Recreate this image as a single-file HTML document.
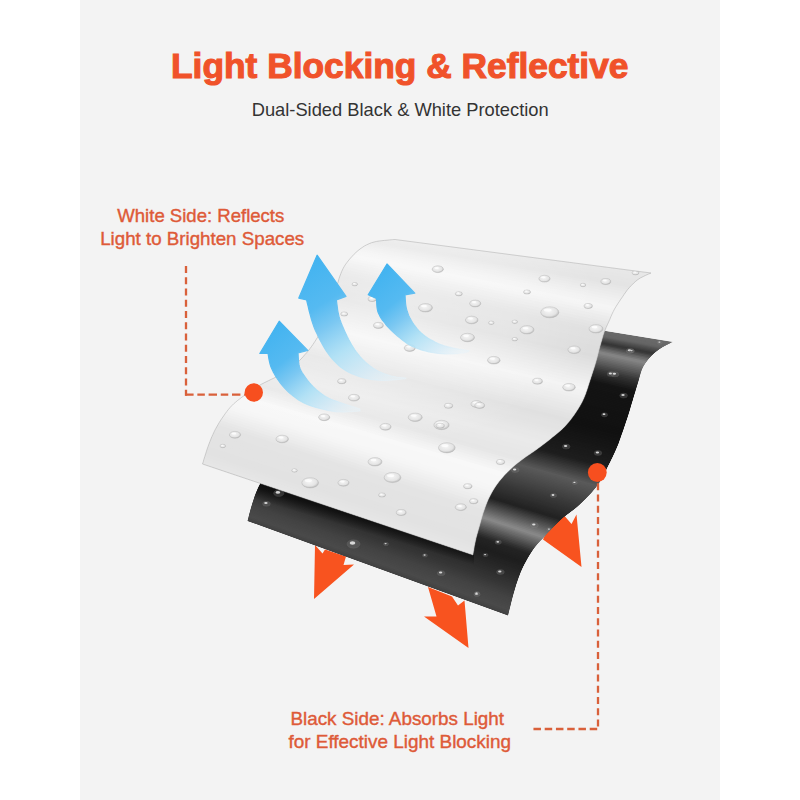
<!DOCTYPE html>
<html><head><meta charset="utf-8">
<style>
html,body{margin:0;padding:0;background:#ffffff;}
body{width:800px;height:800px;overflow:hidden;position:relative;font-family:"Liberation Sans",sans-serif;}
svg{position:absolute;left:0;top:0;}
</style></head><body>
<svg width="800" height="800" viewBox="0 0 800 800">
<rect x="0" y="0" width="800" height="800" fill="#ffffff"/>
<rect x="80" y="0" width="640" height="800" fill="#f3f3f3"/>
<defs>
<linearGradient id="ag1" gradientUnits="userSpaceOnUse" x1="279" y1="321" x2="350" y2="412">
<stop offset="0" stop-color="#42b3f0"/>
<stop offset="0.3" stop-color="#55baf1"/>
<stop offset="0.45" stop-color="#7cc8f2"/>
<stop offset="0.65" stop-color="#ace0f6" stop-opacity="0.9"/>
<stop offset="0.85" stop-color="#d0eaf8" stop-opacity="0.75"/>
<stop offset="1" stop-color="#e6f3fa" stop-opacity="0.45"/>
</linearGradient>
<linearGradient id="ag2" gradientUnits="userSpaceOnUse" x1="317" y1="255" x2="395" y2="380">
<stop offset="0" stop-color="#42b3f0"/>
<stop offset="0.3" stop-color="#55baf1"/>
<stop offset="0.45" stop-color="#7cc8f2"/>
<stop offset="0.65" stop-color="#ace0f6" stop-opacity="0.9"/>
<stop offset="0.85" stop-color="#d0eaf8" stop-opacity="0.75"/>
<stop offset="1" stop-color="#e6f3fa" stop-opacity="0.45"/>
</linearGradient>
<linearGradient id="ag3" gradientUnits="userSpaceOnUse" x1="387" y1="264" x2="460" y2="354">
<stop offset="0" stop-color="#42b3f0"/>
<stop offset="0.3" stop-color="#55baf1"/>
<stop offset="0.45" stop-color="#7cc8f2"/>
<stop offset="0.65" stop-color="#ace0f6" stop-opacity="0.9"/>
<stop offset="0.85" stop-color="#d0eaf8" stop-opacity="0.75"/>
<stop offset="1" stop-color="#e6f3fa" stop-opacity="0.45"/>
</linearGradient>
<linearGradient id="shd" gradientUnits="userSpaceOnUse" x1="330" y1="500" x2="324" y2="520">
<stop offset="0" stop-color="#080808" stop-opacity="0.95"/>
<stop offset="0.45" stop-color="#080808" stop-opacity="0.7"/>
<stop offset="1" stop-color="#080808" stop-opacity="0"/>
</linearGradient>
<radialGradient id="wd" cx="0.45" cy="0.4" r="0.6">
<stop offset="0" stop-color="#f6f6f6"/>
<stop offset="0.7" stop-color="#e4e4e4"/>
<stop offset="1" stop-color="#b8b8b8"/>
</radialGradient>
<linearGradient id="wov" gradientUnits="userSpaceOnUse" x1="300" y1="300" x2="620" y2="380">
<stop offset="0" stop-color="#ffffff" stop-opacity="0.45"/>
<stop offset="0.5" stop-color="#ffffff" stop-opacity="0.3"/>
<stop offset="1" stop-color="#ffffff" stop-opacity="0"/>
</linearGradient>
<radialGradient id="wov2" gradientUnits="userSpaceOnUse" cx="380" cy="310" r="170" gradientTransform="translate(380 310) scale(1.3 0.8) translate(-380 -310)">
<stop offset="0" stop-color="#ffffff" stop-opacity="0.45"/>
<stop offset="0.6" stop-color="#ffffff" stop-opacity="0.25"/>
<stop offset="1" stop-color="#ffffff" stop-opacity="0"/>
</radialGradient>
<clipPath id="bclip"><path d="M425.0,301.5 L673.2,341.9 671.7,342.6 670.2,343.3 668.7,344.0 667.2,344.7 665.7,345.5 664.3,346.2 662.8,347.0 661.4,347.9 660.0,348.8 658.6,349.7 657.3,350.7 656.0,351.7 654.7,352.8 653.5,353.8 652.2,355.0 651.1,356.1 650.0,357.4 648.9,358.6 647.8,359.9 646.8,361.2 645.9,362.6 644.9,363.9 644.1,365.3 643.2,366.8 642.5,368.3 641.8,369.8 641.3,371.3 640.7,372.9 640.3,374.5 639.8,376.1 639.4,377.7 639.0,379.3 638.5,380.9 638.0,382.5 637.6,384.0 637.1,385.6 636.6,387.2 636.1,388.8 635.6,390.4 635.2,392.0 634.7,393.6 634.2,395.1 633.7,396.7 633.2,398.3 632.8,399.9 632.3,401.5 631.8,403.1 631.3,404.7 630.9,406.2 630.4,407.8 630.0,409.4 629.5,411.0 629.0,412.6 628.5,414.2 628.0,415.8 627.5,417.3 627.0,418.9 626.4,420.5 625.9,422.0 625.4,423.6 624.9,425.2 624.3,426.7 623.8,428.3 623.3,429.9 622.7,431.4 622.2,433.0 621.6,434.6 621.1,436.1 620.5,437.7 620.0,439.3 619.4,440.8 618.9,442.4 618.3,443.9 617.7,445.5 617.0,447.0 616.4,448.5 615.7,450.0 615.1,451.6 614.4,453.1 613.7,454.6 613.0,456.1 612.3,457.6 611.5,459.0 610.8,460.5 610.1,462.0 609.3,463.5 608.5,465.0 607.8,466.4 607.0,467.9 606.3,469.4 605.6,470.9 604.9,472.4 604.2,473.9 603.5,475.4 602.8,476.9 602.0,478.3 601.1,479.8 600.3,481.2 599.4,482.5 598.4,483.9 597.5,485.3 596.5,486.6 595.5,487.9 594.4,489.2 593.3,490.5 592.3,491.7 591.2,492.9 590.0,494.2 588.9,495.4 587.8,496.6 586.6,497.8 585.5,498.9 584.3,500.1 583.1,501.3 581.9,502.4 580.7,503.6 579.5,504.7 578.3,505.8 577.0,506.9 575.8,508.0 574.5,509.0 573.2,510.0 571.9,511.0 570.5,512.0 569.2,513.0 567.9,514.0 566.5,515.0 565.2,516.0 563.9,517.0 562.7,518.1 561.4,519.2 560.2,520.3 559.0,521.4 557.8,522.6 556.6,523.7 555.4,524.9 554.3,526.1 553.1,527.3 552.0,528.5 550.9,529.7 549.7,530.9 548.6,532.1 547.5,533.3 546.4,534.5 545.2,535.8 544.1,537.0 543.0,538.2 541.8,539.4 540.7,540.6 539.6,541.8 538.4,543.0 537.3,544.2 536.3,545.5 535.2,546.8 534.2,548.1 533.2,549.4 532.3,550.8 531.4,552.2 530.5,553.6 529.6,555.0 528.7,556.4 527.9,557.8 527.1,559.3 526.3,560.7 525.5,562.2 524.7,563.6 524.0,565.1 523.2,566.6 522.5,568.1 521.8,569.6 521.2,571.1 520.5,572.6 519.9,574.2 519.3,575.7 518.7,577.3 518.2,578.8 517.6,580.4 517.1,581.9 516.6,583.5 516.0,585.1 515.6,586.7 515.1,588.3 514.6,589.9 514.2,591.4 513.7,593.0 513.3,594.6 512.9,596.2 512.4,597.8 512.0,599.4 511.6,601.0 511.2,602.6 510.8,604.2 510.4,605.9 510.0,607.5 509.6,609.1 509.2,610.7 508.8,612.3 508.4,613.9 508.0,615.5 L247.5,521.0 247.9,519.5 248.3,518.0 248.6,516.5 249.0,515.1 249.4,513.6 249.8,512.1 250.2,510.6 250.6,509.1 251.0,507.7 251.4,506.2 251.9,504.7 252.3,503.3 252.8,501.8 253.3,500.4 253.7,498.9 254.2,497.5 254.7,496.0 255.3,494.6 255.8,493.2 256.4,491.8 257.0,490.4 257.6,489.0 258.3,487.6 258.9,486.2 259.6,484.9 260.3,483.5 261.0,482.2 261.8,480.9 262.5,479.5 263.3,478.2 264.1,476.9 264.9,475.6 265.7,474.4 266.5,473.1 267.3,471.8 268.2,470.6 269.1,469.4 270.0,468.2 270.9,467.0 271.9,465.8 272.9,464.6 273.9,463.5 274.9,462.5 276.0,461.4 277.1,460.4 278.2,459.4 279.4,458.4 280.6,457.5 281.7,456.6 282.9,455.7 284.1,454.8 285.3,453.8 286.5,452.9 287.7,452.1 288.9,451.2 290.2,450.3 291.4,449.4 292.6,448.5 293.8,447.7 295.1,446.9 296.3,446.0 297.6,445.2 298.9,444.4 300.1,443.6 301.4,442.9 302.8,442.2 304.1,441.5 305.4,440.8 306.8,440.1 308.1,439.5 309.5,438.8 310.8,438.2 312.2,437.5 313.5,436.8 314.8,436.1 316.1,435.4 317.5,434.7 318.8,434.0 320.1,433.3 321.4,432.6 322.8,431.9 324.1,431.2 325.4,430.5 326.7,429.7 328.0,428.9 329.2,428.1 330.4,427.3 331.6,426.3 332.8,425.3 333.8,424.3 334.8,423.2 335.8,422.0 336.7,420.8 337.7,419.7 338.7,418.5 339.7,417.4 340.7,416.2 341.6,415.1 342.6,413.9 343.6,412.8 344.5,411.6 345.5,410.4 346.4,409.2 347.3,408.0 348.2,406.8 349.0,405.5 349.8,404.3 350.6,403.0 351.4,401.7 352.2,400.4 353.0,399.1 353.7,397.7 354.4,396.4 355.1,395.0 355.8,393.7 356.4,392.3 357.1,390.9 357.7,389.5 358.3,388.1 358.9,386.7 359.5,385.3 360.0,383.9 360.5,382.5 361.1,381.0 361.6,379.6 362.1,378.1 362.5,376.7 363.0,375.2 363.5,373.8 363.9,372.3 364.3,370.9 364.8,369.4 365.2,367.9 365.6,366.4 366.0,365.0 366.4,363.5 366.8,362.0 367.2,360.5 367.6,359.0 368.0,357.6 368.4,356.1 368.8,354.6 369.2,353.1 369.5,351.6 369.9,350.1 370.3,348.7 370.6,347.2 371.0,345.7 371.4,344.2 371.7,342.7 372.1,341.2 372.5,339.7 372.9,338.3 373.3,336.8 373.8,335.3 374.3,333.9 374.8,332.5 375.4,331.0 376.0,329.7 376.7,328.3 377.4,327.0 378.2,325.7 379.1,324.4 380.0,323.2 380.9,322.0 381.8,320.8 382.7,319.6 383.7,318.4 384.7,317.3 385.7,316.2 386.7,315.1 387.7,314.0 388.8,312.9 389.9,311.9 391.1,311.0 392.3,310.0 393.5,309.1 394.7,308.3 396.0,307.5 397.3,306.7 398.6,306.0 400.0,305.4 401.3,304.8 402.8,304.3 404.2,303.9 405.6,303.5 407.1,303.2 408.6,303.0 410.1,302.7 411.5,302.6 413.0,302.4 414.5,302.3 416.0,302.1 417.5,302.0 419.0,301.9 420.5,301.8 422.0,301.7 423.5,301.6 425.0,301.5 Z"/></clipPath>
<clipPath id="wclip"><path d="M395.0,239.5 L651.0,273.0 648.3,274.2 645.7,275.3 643.1,276.6 640.5,277.9 638.0,279.5 635.7,281.3 633.6,283.2 631.5,285.3 629.5,287.4 627.6,289.6 625.9,291.9 624.2,294.3 622.6,296.7 620.9,299.1 619.3,301.5 617.7,303.9 616.1,306.4 614.6,308.9 613.3,311.4 612.0,314.1 610.9,316.7 609.8,319.4 608.6,322.1 607.4,324.8 606.2,327.4 605.1,330.1 604.1,332.8 603.2,335.6 602.4,338.4 601.6,341.2 600.8,343.9 600.0,346.8 599.3,349.6 598.6,352.4 597.9,355.2 597.2,358.0 596.4,360.8 595.6,363.6 594.7,366.4 593.8,369.2 592.9,371.9 592.0,374.7 591.1,377.4 590.2,380.2 589.3,383.0 588.4,385.8 587.6,388.5 586.6,391.3 585.7,394.0 584.6,396.7 583.4,399.4 582.2,402.0 580.8,404.6 579.4,407.1 577.8,409.6 576.2,412.0 574.6,414.4 572.9,416.8 571.2,419.1 569.4,421.4 567.5,423.6 565.6,425.8 563.6,427.9 561.4,429.9 559.3,431.8 557.0,433.7 554.8,435.5 552.5,437.3 550.3,439.2 548.0,441.0 545.7,442.8 543.4,444.5 541.1,446.3 538.7,448.0 536.4,449.7 534.0,451.4 531.6,453.1 529.2,454.7 526.8,456.3 524.4,458.0 522.1,459.7 519.8,461.5 517.5,463.3 515.2,465.1 513.0,467.0 510.9,469.0 508.8,471.0 506.7,473.0 504.7,475.1 502.8,477.3 500.9,479.5 499.0,481.7 497.3,484.1 495.6,486.4 494.0,488.9 492.5,491.4 491.1,493.9 489.8,496.5 488.5,499.1 487.4,501.8 486.3,504.5 485.3,507.2 484.4,510.0 483.4,512.7 482.6,515.5 481.8,518.3 481.0,521.1 480.2,523.9 479.4,526.7 478.6,529.5 477.8,532.3 477.0,535.1 476.2,537.9 475.6,540.7 475.0,543.5 474.4,546.4 474.0,549.3 473.5,552.1 473.0,555.0 L202.5,464.0 203.3,461.5 204.0,458.9 204.8,456.4 205.6,453.9 206.4,451.4 207.2,448.9 208.1,446.4 209.0,443.9 209.9,441.5 210.9,439.0 211.9,436.6 213.0,434.2 214.1,431.8 215.3,429.4 216.6,427.1 217.9,424.8 219.2,422.6 220.6,420.3 222.1,418.1 223.6,416.0 225.1,413.8 226.7,411.7 228.3,409.6 230.0,407.6 231.8,405.7 233.7,403.8 235.7,402.1 237.7,400.4 239.8,398.8 241.9,397.2 244.0,395.7 246.2,394.1 248.3,392.6 250.5,391.1 252.7,389.6 254.9,388.2 257.1,386.8 259.4,385.4 261.6,384.1 264.0,382.9 266.4,381.7 268.7,380.6 271.1,379.4 273.5,378.3 275.8,377.1 278.2,375.9 280.5,374.6 282.9,373.4 285.2,372.2 287.5,370.9 289.7,369.6 291.9,368.1 294.0,366.5 295.9,364.7 297.7,362.7 299.4,360.7 301.2,358.8 303.0,356.8 304.7,354.8 306.5,352.9 308.2,350.9 309.8,348.8 311.4,346.7 312.9,344.5 314.4,342.3 315.8,340.1 317.2,337.9 318.5,335.6 319.7,333.3 321.0,330.9 322.1,328.5 323.2,326.1 324.3,323.7 325.3,321.3 326.2,318.8 327.2,316.4 328.1,313.9 328.9,311.4 329.8,308.9 330.6,306.4 331.4,303.9 332.2,301.4 333.0,298.9 333.8,296.3 334.6,293.8 335.3,291.3 336.1,288.8 336.8,286.2 337.5,283.7 338.3,281.2 339.0,278.6 339.9,276.1 340.8,273.7 341.8,271.2 342.9,268.9 344.2,266.5 345.6,264.3 347.2,262.2 348.8,260.1 350.5,258.1 352.3,256.2 354.1,254.2 356.0,252.4 358.0,250.6 360.0,249.0 362.2,247.5 364.4,246.0 366.7,244.8 369.1,243.7 371.5,242.7 374.1,242.0 376.6,241.4 379.3,241.0 381.9,240.7 384.5,240.4 387.1,240.2 389.7,239.9 392.4,239.7 395.0,239.5 Z"/></clipPath>
</defs>
<path d="M428,587 L452,596.5 L458,605.5 L464.5,600.5 L468.5,648 L424,616.5 L436.5,616.5 Z" fill="#f8531f"/>
<path d="M315,545 L322.5,553.5 L325,549.5 L346,556.5 L343.5,565 L354,564.5 L314,599 Z" fill="#f8531f"/>
<path d="M543,539.5 L548,528 L562,513 L571.5,524 L576.5,514.5 L581.5,567 Z" fill="#f8531f"/>
<g clip-path="url(#bclip)">
<polygon points="425.0,301.5 673.2,341.9 668.7,344.0 420.5,301.8" fill="#6a6a6a"/>
<polygon points="423.5,301.6 671.7,342.6 667.2,344.7 419.0,301.9" fill="#696969"/>
<polygon points="422.0,301.7 670.2,343.3 665.7,345.5 417.5,302.0" fill="#696969"/>
<polygon points="420.5,301.8 668.7,344.0 664.3,346.2 416.0,302.1" fill="#686868"/>
<polygon points="419.0,301.9 667.2,344.7 662.8,347.0 414.5,302.3" fill="#676767"/>
<polygon points="417.5,302.0 665.7,345.5 661.4,347.9 413.0,302.4" fill="#676767"/>
<polygon points="416.0,302.1 664.3,346.2 660.0,348.8 411.5,302.6" fill="#666666"/>
<polygon points="414.5,302.3 662.8,347.0 658.6,349.7 410.1,302.7" fill="#626262"/>
<polygon points="413.0,302.4 661.4,347.9 657.3,350.7 408.6,303.0" fill="#5b5b5b"/>
<polygon points="411.5,302.6 660.0,348.8 656.0,351.7 407.1,303.2" fill="#535353"/>
<polygon points="410.1,302.7 658.6,349.7 654.7,352.8 405.6,303.5" fill="#4c4c4c"/>
<polygon points="408.6,303.0 657.3,350.7 653.5,353.8 404.2,303.9" fill="#454545"/>
<polygon points="407.1,303.2 656.0,351.7 652.2,355.0 402.8,304.3" fill="#3d3d3d"/>
<polygon points="405.6,303.5 654.7,352.8 651.1,356.1 401.3,304.8" fill="#363636"/>
<polygon points="404.2,303.9 653.5,353.8 650.0,357.4 400.0,305.4" fill="#3a3a3a"/>
<polygon points="402.8,304.3 652.2,355.0 648.9,358.6 398.6,306.0" fill="#464646"/>
<polygon points="401.3,304.8 651.1,356.1 647.8,359.9 397.3,306.7" fill="#525252"/>
<polygon points="400.0,305.4 650.0,357.4 646.8,361.2 396.0,307.5" fill="#5f5f5f"/>
<polygon points="398.6,306.0 648.9,358.6 645.9,362.6 394.7,308.3" fill="#6b6b6b"/>
<polygon points="397.3,306.7 647.8,359.9 644.9,363.9 393.5,309.1" fill="#777777"/>
<polygon points="396.0,307.5 646.8,361.2 644.1,365.3 392.3,310.0" fill="#838383"/>
<polygon points="394.7,308.3 645.9,362.6 643.2,366.8 391.1,311.0" fill="#848484"/>
<polygon points="393.5,309.1 644.9,363.9 642.5,368.3 389.9,311.9" fill="#7d7d7d"/>
<polygon points="392.3,310.0 644.1,365.3 641.8,369.8 388.8,312.9" fill="#777777"/>
<polygon points="391.1,311.0 643.2,366.8 641.3,371.3 387.7,314.0" fill="#707070"/>
<polygon points="389.9,311.9 642.5,368.3 640.7,372.9 386.7,315.1" fill="#696969"/>
<polygon points="388.8,312.9 641.8,369.8 640.3,374.5 385.7,316.2" fill="#626262"/>
<polygon points="387.7,314.0 641.3,371.3 639.8,376.1 384.7,317.3" fill="#5b5b5b"/>
<polygon points="386.7,315.1 640.7,372.9 639.4,377.7 383.7,318.4" fill="#545454"/>
<polygon points="385.7,316.2 640.3,374.5 639.0,379.3 382.7,319.6" fill="#4c4c4c"/>
<polygon points="384.7,317.3 639.8,376.1 638.5,380.9 381.8,320.8" fill="#454545"/>
<polygon points="383.7,318.4 639.4,377.7 638.0,382.5 380.9,322.0" fill="#3d3d3d"/>
<polygon points="382.7,319.6 639.0,379.3 637.6,384.0 380.0,323.2" fill="#363636"/>
<polygon points="381.8,320.8 638.5,380.9 637.1,385.6 379.1,324.4" fill="#303030"/>
<polygon points="380.9,322.0 638.0,382.5 636.6,387.2 378.2,325.7" fill="#2c2c2c"/>
<polygon points="380.0,323.2 637.6,384.0 636.1,388.8 377.4,327.0" fill="#272727"/>
<polygon points="379.1,324.4 637.1,385.6 635.6,390.4 376.7,328.3" fill="#232323"/>
<polygon points="378.2,325.7 636.6,387.2 635.2,392.0 376.0,329.7" fill="#1e1e1e"/>
<polygon points="377.4,327.0 636.1,388.8 634.7,393.6 375.4,331.0" fill="#1a1a1a"/>
<polygon points="376.7,328.3 635.6,390.4 634.2,395.1 374.8,332.5" fill="#151515"/>
<polygon points="376.0,329.7 635.2,392.0 633.7,396.7 374.3,333.9" fill="#141414"/>
<polygon points="375.4,331.0 634.7,393.6 633.2,398.3 373.8,335.3" fill="#141414"/>
<polygon points="374.8,332.5 634.2,395.1 632.8,399.9 373.3,336.8" fill="#141414"/>
<polygon points="374.3,333.9 633.7,396.7 632.3,401.5 372.9,338.3" fill="#141414"/>
<polygon points="373.8,335.3 633.2,398.3 631.8,403.1 372.5,339.7" fill="#131313"/>
<polygon points="373.3,336.8 632.8,399.9 631.3,404.7 372.1,341.2" fill="#131313"/>
<polygon points="372.9,338.3 632.3,401.5 630.9,406.2 371.7,342.7" fill="#131313"/>
<polygon points="372.5,339.7 631.8,403.1 630.4,407.8 371.4,344.2" fill="#131313"/>
<polygon points="372.1,341.2 631.3,404.7 630.0,409.4 371.0,345.7" fill="#131313"/>
<polygon points="371.7,342.7 630.9,406.2 629.5,411.0 370.6,347.2" fill="#131313"/>
<polygon points="371.4,344.2 630.4,407.8 629.0,412.6 370.3,348.7" fill="#131313"/>
<polygon points="371.0,345.7 630.0,409.4 628.5,414.2 369.9,350.1" fill="#131313"/>
<polygon points="370.6,347.2 629.5,411.0 628.0,415.8 369.5,351.6" fill="#131313"/>
<polygon points="370.3,348.7 629.0,412.6 627.5,417.3 369.2,353.1" fill="#131313"/>
<polygon points="369.9,350.1 628.5,414.2 627.0,418.9 368.8,354.6" fill="#121212"/>
<polygon points="369.5,351.6 628.0,415.8 626.4,420.5 368.4,356.1" fill="#121212"/>
<polygon points="369.2,353.1 627.5,417.3 625.9,422.0 368.0,357.6" fill="#121212"/>
<polygon points="368.8,354.6 627.0,418.9 625.4,423.6 367.6,359.0" fill="#121212"/>
<polygon points="368.4,356.1 626.4,420.5 624.9,425.2 367.2,360.5" fill="#121212"/>
<polygon points="368.0,357.6 625.9,422.0 624.3,426.7 366.8,362.0" fill="#121212"/>
<polygon points="367.6,359.0 625.4,423.6 623.8,428.3 366.4,363.5" fill="#121212"/>
<polygon points="367.2,360.5 624.9,425.2 623.3,429.9 366.0,365.0" fill="#121212"/>
<polygon points="366.8,362.0 624.3,426.7 622.7,431.4 365.6,366.4" fill="#121212"/>
<polygon points="366.4,363.5 623.8,428.3 622.2,433.0 365.2,367.9" fill="#111111"/>
<polygon points="366.0,365.0 623.3,429.9 621.6,434.6 364.8,369.4" fill="#111111"/>
<polygon points="365.6,366.4 622.7,431.4 621.1,436.1 364.3,370.9" fill="#111111"/>
<polygon points="365.2,367.9 622.2,433.0 620.5,437.7 363.9,372.3" fill="#111111"/>
<polygon points="364.8,369.4 621.6,434.6 620.0,439.3 363.5,373.8" fill="#111111"/>
<polygon points="364.3,370.9 621.1,436.1 619.4,440.8 363.0,375.2" fill="#121212"/>
<polygon points="363.9,372.3 620.5,437.7 618.9,442.4 362.5,376.7" fill="#121212"/>
<polygon points="363.5,373.8 620.0,439.3 618.3,443.9 362.1,378.1" fill="#131313"/>
<polygon points="363.0,375.2 619.4,440.8 617.7,445.5 361.6,379.6" fill="#131313"/>
<polygon points="362.5,376.7 618.9,442.4 617.0,447.0 361.1,381.0" fill="#141414"/>
<polygon points="362.1,378.1 618.3,443.9 616.4,448.5 360.5,382.5" fill="#151515"/>
<polygon points="361.6,379.6 617.7,445.5 615.7,450.0 360.0,383.9" fill="#151515"/>
<polygon points="361.1,381.0 617.0,447.0 615.1,451.6 359.5,385.3" fill="#161616"/>
<polygon points="360.5,382.5 616.4,448.5 614.4,453.1 358.9,386.7" fill="#161616"/>
<polygon points="360.0,383.9 615.7,450.0 613.7,454.6 358.3,388.1" fill="#171717"/>
<polygon points="359.5,385.3 615.1,451.6 613.0,456.1 357.7,389.5" fill="#181818"/>
<polygon points="358.9,386.7 614.4,453.1 612.3,457.6 357.1,390.9" fill="#181818"/>
<polygon points="358.3,388.1 613.7,454.6 611.5,459.0 356.4,392.3" fill="#191919"/>
<polygon points="357.7,389.5 613.0,456.1 610.8,460.5 355.8,393.7" fill="#1a1a1a"/>
<polygon points="357.1,390.9 612.3,457.6 610.1,462.0 355.1,395.0" fill="#1a1a1a"/>
<polygon points="356.4,392.3 611.5,459.0 609.3,463.5 354.4,396.4" fill="#1b1b1b"/>
<polygon points="355.8,393.7 610.8,460.5 608.5,465.0 353.7,397.7" fill="#1b1b1b"/>
<polygon points="355.1,395.0 610.1,462.0 607.8,466.4 353.0,399.1" fill="#1c1c1c"/>
<polygon points="354.4,396.4 609.3,463.5 607.0,467.9 352.2,400.4" fill="#1d1d1d"/>
<polygon points="353.7,397.7 608.5,465.0 606.3,469.4 351.4,401.7" fill="#1d1d1d"/>
<polygon points="353.0,399.1 607.8,466.4 605.6,470.9 350.6,403.0" fill="#1e1e1e"/>
<polygon points="352.2,400.4 607.0,467.9 604.9,472.4 349.8,404.3" fill="#222222"/>
<polygon points="351.4,401.7 606.3,469.4 604.2,473.9 349.0,405.5" fill="#272727"/>
<polygon points="350.6,403.0 605.6,470.9 603.5,475.4 348.2,406.8" fill="#2c2c2c"/>
<polygon points="349.8,404.3 604.9,472.4 602.8,476.9 347.3,408.0" fill="#303030"/>
<polygon points="349.0,405.5 604.2,473.9 602.0,478.3 346.4,409.2" fill="#353535"/>
<polygon points="348.2,406.8 603.5,475.4 601.1,479.8 345.5,410.4" fill="#3a3a3a"/>
<polygon points="347.3,408.0 602.8,476.9 600.3,481.2 344.5,411.6" fill="#3e3e3e"/>
<polygon points="346.4,409.2 602.0,478.3 599.4,482.5 343.6,412.8" fill="#434343"/>
<polygon points="345.5,410.4 601.1,479.8 598.4,483.9 342.6,413.9" fill="#474747"/>
<polygon points="344.5,411.6 600.3,481.2 597.5,485.3 341.6,415.1" fill="#4c4c4c"/>
<polygon points="343.6,412.8 599.4,482.5 596.5,486.6 340.7,416.2" fill="#515151"/>
<polygon points="342.6,413.9 598.4,483.9 595.5,487.9 339.7,417.4" fill="#555555"/>
<polygon points="341.6,415.1 597.5,485.3 594.4,489.2 338.7,418.5" fill="#5a5a5a"/>
<polygon points="340.7,416.2 596.5,486.6 593.3,490.5 337.7,419.7" fill="#585858"/>
<polygon points="339.7,417.4 595.5,487.9 592.3,491.7 336.7,420.8" fill="#565656"/>
<polygon points="338.7,418.5 594.4,489.2 591.2,492.9 335.8,422.0" fill="#545454"/>
<polygon points="337.7,419.7 593.3,490.5 590.0,494.2 334.8,423.2" fill="#525252"/>
<polygon points="336.7,420.8 592.3,491.7 588.9,495.4 333.8,424.3" fill="#505050"/>
<polygon points="335.8,422.0 591.2,492.9 587.8,496.6 332.8,425.3" fill="#4e4e4e"/>
<polygon points="334.8,423.2 590.0,494.2 586.6,497.8 331.6,426.3" fill="#4c4c4c"/>
<polygon points="333.8,424.3 588.9,495.4 585.5,498.9 330.4,427.3" fill="#4a4a4a"/>
<polygon points="332.8,425.3 587.8,496.6 584.3,500.1 329.2,428.1" fill="#484848"/>
<polygon points="331.6,426.3 586.6,497.8 583.1,501.3 328.0,428.9" fill="#464646"/>
<polygon points="330.4,427.3 585.5,498.9 581.9,502.4 326.7,429.7" fill="#444444"/>
<polygon points="329.2,428.1 584.3,500.1 580.7,503.6 325.4,430.5" fill="#424242"/>
<polygon points="328.0,428.9 583.1,501.3 579.5,504.7 324.1,431.2" fill="#404040"/>
<polygon points="326.7,429.7 581.9,502.4 578.3,505.8 322.8,431.9" fill="#3e3e3e"/>
<polygon points="325.4,430.5 580.7,503.6 577.0,506.9 321.4,432.6" fill="#3c3c3c"/>
<polygon points="324.1,431.2 579.5,504.7 575.8,508.0 320.1,433.3" fill="#3a3a3a"/>
<polygon points="322.8,431.9 578.3,505.8 574.5,509.0 318.8,434.0" fill="#383838"/>
<polygon points="321.4,432.6 577.0,506.9 573.2,510.0 317.5,434.7" fill="#363636"/>
<polygon points="320.1,433.3 575.8,508.0 571.9,511.0 316.1,435.4" fill="#353535"/>
<polygon points="318.8,434.0 574.5,509.0 570.5,512.0 314.8,436.1" fill="#333333"/>
<polygon points="317.5,434.7 573.2,510.0 569.2,513.0 313.5,436.8" fill="#313131"/>
<polygon points="316.1,435.4 571.9,511.0 567.9,514.0 312.2,437.5" fill="#303030"/>
<polygon points="314.8,436.1 570.5,512.0 566.5,515.0 310.8,438.2" fill="#2e2e2e"/>
<polygon points="313.5,436.8 569.2,513.0 565.2,516.0 309.5,438.8" fill="#2c2c2c"/>
<polygon points="312.2,437.5 567.9,514.0 563.9,517.0 308.1,439.5" fill="#2a2a2a"/>
<polygon points="310.8,438.2 566.5,515.0 562.7,518.1 306.8,440.1" fill="#292929"/>
<polygon points="309.5,438.8 565.2,516.0 561.4,519.2 305.4,440.8" fill="#272727"/>
<polygon points="308.1,439.5 563.9,517.0 560.2,520.3 304.1,441.5" fill="#252525"/>
<polygon points="306.8,440.1 562.7,518.1 559.0,521.4 302.8,442.2" fill="#232323"/>
<polygon points="305.4,440.8 561.4,519.2 557.8,522.6 301.4,442.9" fill="#232323"/>
<polygon points="304.1,441.5 560.2,520.3 556.6,523.7 300.1,443.6" fill="#2a2a2a"/>
<polygon points="302.8,442.2 559.0,521.4 555.4,524.9 298.9,444.4" fill="#313131"/>
<polygon points="301.4,442.9 557.8,522.6 554.3,526.1 297.6,445.2" fill="#383838"/>
<polygon points="300.1,443.6 556.6,523.7 553.1,527.3 296.3,446.0" fill="#3f3f3f"/>
<polygon points="298.9,444.4 555.4,524.9 552.0,528.5 295.1,446.9" fill="#464646"/>
<polygon points="297.6,445.2 554.3,526.1 550.9,529.7 293.8,447.7" fill="#4d4d4d"/>
<polygon points="296.3,446.0 553.1,527.3 549.7,530.9 292.6,448.5" fill="#545454"/>
<polygon points="295.1,446.9 552.0,528.5 548.6,532.1 291.4,449.4" fill="#5b5b5b"/>
<polygon points="293.8,447.7 550.9,529.7 547.5,533.3 290.2,450.3" fill="#626262"/>
<polygon points="292.6,448.5 549.7,530.9 546.4,534.5 288.9,451.2" fill="#696969"/>
<polygon points="291.4,449.4 548.6,532.1 545.2,535.8 287.7,452.1" fill="#707070"/>
<polygon points="290.2,450.3 547.5,533.3 544.1,537.0 286.5,452.9" fill="#777777"/>
<polygon points="288.9,451.2 546.4,534.5 543.0,538.2 285.3,453.8" fill="#7e7e7e"/>
<polygon points="287.7,452.1 545.2,535.8 541.8,539.4 284.1,454.8" fill="#858585"/>
<polygon points="286.5,452.9 544.1,537.0 540.7,540.6 282.9,455.7" fill="#888888"/>
<polygon points="285.3,453.8 543.0,538.2 539.6,541.8 281.7,456.6" fill="#808080"/>
<polygon points="284.1,454.8 541.8,539.4 538.4,543.0 280.6,457.5" fill="#787878"/>
<polygon points="282.9,455.7 540.7,540.6 537.3,544.2 279.4,458.4" fill="#707070"/>
<polygon points="281.7,456.6 539.6,541.8 536.3,545.5 278.2,459.4" fill="#696969"/>
<polygon points="280.6,457.5 538.4,543.0 535.2,546.8 277.1,460.4" fill="#616161"/>
<polygon points="279.4,458.4 537.3,544.2 534.2,548.1 276.0,461.4" fill="#595959"/>
<polygon points="278.2,459.4 536.3,545.5 533.2,549.4 274.9,462.5" fill="#515151"/>
<polygon points="277.1,460.4 535.2,546.8 532.3,550.8 273.9,463.5" fill="#494949"/>
<polygon points="276.0,461.4 534.2,548.1 531.4,552.2 272.9,464.6" fill="#414141"/>
<polygon points="274.9,462.5 533.2,549.4 530.5,553.6 271.9,465.8" fill="#393939"/>
<polygon points="273.9,463.5 532.3,550.8 529.6,555.0 270.9,467.0" fill="#313131"/>
<polygon points="272.9,464.6 531.4,552.2 528.7,556.4 270.0,468.2" fill="#2a2a2a"/>
<polygon points="271.9,465.8 530.5,553.6 527.9,557.8 269.1,469.4" fill="#242424"/>
<polygon points="270.9,467.0 529.6,555.0 527.1,559.3 268.2,470.6" fill="#232323"/>
<polygon points="270.0,468.2 528.7,556.4 526.3,560.7 267.3,471.8" fill="#222222"/>
<polygon points="269.1,469.4 527.9,557.8 525.5,562.2 266.5,473.1" fill="#212121"/>
<polygon points="268.2,470.6 527.1,559.3 524.7,563.6 265.7,474.4" fill="#202020"/>
<polygon points="267.3,471.8 526.3,560.7 524.0,565.1 264.9,475.6" fill="#1f1f1f"/>
<polygon points="266.5,473.1 525.5,562.2 523.2,566.6 264.1,476.9" fill="#1e1e1e"/>
<polygon points="265.7,474.4 524.7,563.6 522.5,568.1 263.3,478.2" fill="#1f1f1f"/>
<polygon points="264.9,475.6 524.0,565.1 521.8,569.6 262.5,479.5" fill="#202020"/>
<polygon points="264.1,476.9 523.2,566.6 521.2,571.1 261.8,480.9" fill="#222222"/>
<polygon points="263.3,478.2 522.5,568.1 520.5,572.6 261.0,482.2" fill="#232323"/>
<polygon points="262.5,479.5 521.8,569.6 519.9,574.2 260.3,483.5" fill="#242424"/>
<polygon points="261.8,480.9 521.2,571.1 519.3,575.7 259.6,484.9" fill="#262626"/>
<polygon points="261.0,482.2 520.5,572.6 518.7,577.3 258.9,486.2" fill="#272727"/>
<polygon points="260.3,483.5 519.9,574.2 518.2,578.8 258.3,487.6" fill="#292929"/>
<polygon points="259.6,484.9 519.3,575.7 517.6,580.4 257.6,489.0" fill="#2a2a2a"/>
<polygon points="258.9,486.2 518.7,577.3 517.1,581.9 257.0,490.4" fill="#2c2c2c"/>
<polygon points="258.3,487.6 518.2,578.8 516.6,583.5 256.4,491.8" fill="#2d2d2d"/>
<polygon points="257.6,489.0 517.6,580.4 516.0,585.1 255.8,493.2" fill="#2f2f2f"/>
<polygon points="257.0,490.4 517.1,581.9 515.6,586.7 255.3,494.6" fill="#313131"/>
<polygon points="256.4,491.8 516.6,583.5 515.1,588.3 254.7,496.0" fill="#323232"/>
<polygon points="255.8,493.2 516.0,585.1 514.6,589.9 254.2,497.5" fill="#343434"/>
<polygon points="255.3,494.6 515.6,586.7 514.2,591.4 253.7,498.9" fill="#353535"/>
<polygon points="254.7,496.0 515.1,588.3 513.7,593.0 253.3,500.4" fill="#373737"/>
<polygon points="254.2,497.5 514.6,589.9 513.3,594.6 252.8,501.8" fill="#393939"/>
<polygon points="253.7,498.9 514.2,591.4 512.9,596.2 252.3,503.3" fill="#3b3b3b"/>
<polygon points="253.3,500.4 513.7,593.0 512.4,597.8 251.9,504.7" fill="#3d3d3d"/>
<polygon points="252.8,501.8 513.3,594.6 512.0,599.4 251.4,506.2" fill="#3f3f3f"/>
<polygon points="252.3,503.3 512.9,596.2 511.6,601.0 251.0,507.7" fill="#414141"/>
<polygon points="251.9,504.7 512.4,597.8 511.2,602.6 250.6,509.1" fill="#434343"/>
<polygon points="251.4,506.2 512.0,599.4 510.8,604.2 250.2,510.6" fill="#444444"/>
<polygon points="251.0,507.7 511.6,601.0 510.4,605.9 249.8,512.1" fill="#454545"/>
<polygon points="250.6,509.1 511.2,602.6 510.0,607.5 249.4,513.6" fill="#464646"/>
<polygon points="250.2,510.6 510.8,604.2 509.6,609.1 249.0,515.1" fill="#474747"/>
<polygon points="249.8,512.1 510.4,605.9 509.2,610.7 248.6,516.5" fill="#484848"/>
<polygon points="249.4,513.6 510.0,607.5 508.8,612.3 248.3,518.0" fill="#494949"/>
<polygon points="249.0,515.1 509.6,609.1 508.4,613.9 247.9,519.5" fill="#4a4a4a"/>
<polygon points="248.6,516.5 509.2,610.7 508.0,615.5 247.5,521.0" fill="#484848"/>
<polygon points="248.3,518.0 508.8,612.3 508.0,615.5 247.5,521.0" fill="#454545"/>
<polygon points="247.9,519.5 508.4,613.9 508.0,615.5 247.5,521.0" fill="#424242"/>
<polygon points="190,455 474,553 474,590 180,490" fill="url(#shd)"/>
<ellipse cx="611.0" cy="374.0" rx="3.9" ry="2.5" fill="#777" opacity="0.35" stroke="#aaa" stroke-opacity="0.6" stroke-width="0.6"/><ellipse cx="610.4" cy="373.4" rx="1.7" ry="1.0" fill="#f0f0f0" opacity="0.85"/>
<ellipse cx="630.0" cy="350.8" rx="3.9" ry="2.5" fill="#777" opacity="0.35" stroke="#aaa" stroke-opacity="0.6" stroke-width="0.6"/><ellipse cx="629.4" cy="350.2" rx="1.7" ry="1.0" fill="#f0f0f0" opacity="0.85"/>
<ellipse cx="623.6" cy="395.6" rx="3.9" ry="2.5" fill="#777" opacity="0.35" stroke="#aaa" stroke-opacity="0.6" stroke-width="0.6"/><ellipse cx="623.0" cy="395.0" rx="1.7" ry="1.0" fill="#f0f0f0" opacity="0.85"/>
<ellipse cx="604.5" cy="414.8" rx="3.2" ry="2.1" fill="#777" opacity="0.35" stroke="#aaa" stroke-opacity="0.6" stroke-width="0.6"/><ellipse cx="604.0" cy="414.2" rx="1.4" ry="0.9" fill="#f0f0f0" opacity="0.85"/>
<ellipse cx="566.2" cy="446.6" rx="3.9" ry="2.5" fill="#777" opacity="0.35" stroke="#aaa" stroke-opacity="0.6" stroke-width="0.6"/><ellipse cx="565.6" cy="446.0" rx="1.7" ry="1.0" fill="#f0f0f0" opacity="0.85"/>
<ellipse cx="598.0" cy="453.0" rx="3.9" ry="2.5" fill="#777" opacity="0.35" stroke="#aaa" stroke-opacity="0.6" stroke-width="0.6"/><ellipse cx="597.4" cy="452.4" rx="1.7" ry="1.0" fill="#f0f0f0" opacity="0.85"/>
<ellipse cx="615.0" cy="374.4" rx="3.9" ry="2.5" fill="#777" opacity="0.35" stroke="#aaa" stroke-opacity="0.6" stroke-width="0.6"/><ellipse cx="614.4" cy="373.8" rx="1.7" ry="1.0" fill="#f0f0f0" opacity="0.85"/>
<ellipse cx="659.8" cy="342.5" rx="2.6" ry="1.7" fill="#777" opacity="0.35" stroke="#aaa" stroke-opacity="0.6" stroke-width="0.6"/><ellipse cx="659.4" cy="342.1" rx="1.1" ry="0.7" fill="#f0f0f0" opacity="0.85"/>
<ellipse cx="632.0" cy="351.0" rx="2.6" ry="1.7" fill="#777" opacity="0.35" stroke="#aaa" stroke-opacity="0.6" stroke-width="0.6"/><ellipse cx="631.6" cy="350.6" rx="1.1" ry="0.7" fill="#f0f0f0" opacity="0.85"/>
<ellipse cx="515.2" cy="470.0" rx="3.9" ry="2.5" fill="#777" opacity="0.35" stroke="#aaa" stroke-opacity="0.6" stroke-width="0.6"/><ellipse cx="514.6" cy="469.4" rx="1.7" ry="1.0" fill="#f0f0f0" opacity="0.85"/>
<ellipse cx="553.5" cy="495.5" rx="3.2" ry="2.1" fill="#777" opacity="0.35" stroke="#aaa" stroke-opacity="0.6" stroke-width="0.6"/><ellipse cx="553.0" cy="495.0" rx="1.4" ry="0.9" fill="#f0f0f0" opacity="0.85"/>
<ellipse cx="574.8" cy="482.8" rx="2.6" ry="1.7" fill="#777" opacity="0.35" stroke="#aaa" stroke-opacity="0.6" stroke-width="0.6"/><ellipse cx="574.4" cy="482.4" rx="1.1" ry="0.7" fill="#f0f0f0" opacity="0.85"/>
<ellipse cx="534.4" cy="525.2" rx="3.9" ry="2.5" fill="#777" opacity="0.35" stroke="#aaa" stroke-opacity="0.6" stroke-width="0.6"/><ellipse cx="533.8" cy="524.6" rx="1.7" ry="1.0" fill="#f0f0f0" opacity="0.85"/>
<ellipse cx="498.2" cy="542.2" rx="3.2" ry="2.1" fill="#777" opacity="0.35" stroke="#aaa" stroke-opacity="0.6" stroke-width="0.6"/><ellipse cx="497.8" cy="541.8" rx="1.4" ry="0.9" fill="#f0f0f0" opacity="0.85"/>
<ellipse cx="500.4" cy="572.0" rx="3.9" ry="2.5" fill="#777" opacity="0.35" stroke="#aaa" stroke-opacity="0.6" stroke-width="0.6"/><ellipse cx="499.8" cy="571.4" rx="1.7" ry="1.0" fill="#f0f0f0" opacity="0.85"/>
<ellipse cx="485.5" cy="555.0" rx="2.6" ry="1.7" fill="#777" opacity="0.35" stroke="#aaa" stroke-opacity="0.6" stroke-width="0.6"/><ellipse cx="485.1" cy="554.6" rx="1.1" ry="0.7" fill="#f0f0f0" opacity="0.85"/>
<ellipse cx="549.2" cy="529.5" rx="2.6" ry="1.7" fill="#777" opacity="0.35" stroke="#aaa" stroke-opacity="0.6" stroke-width="0.6"/><ellipse cx="548.9" cy="529.1" rx="1.1" ry="0.7" fill="#f0f0f0" opacity="0.85"/>
<ellipse cx="477.0" cy="593.2" rx="2.6" ry="1.7" fill="#777" opacity="0.35" stroke="#aaa" stroke-opacity="0.6" stroke-width="0.6"/><ellipse cx="476.6" cy="592.9" rx="1.1" ry="0.7" fill="#f0f0f0" opacity="0.85"/>
<ellipse cx="278.8" cy="493.2" rx="5.2" ry="3.4" fill="#777" opacity="0.35" stroke="#aaa" stroke-opacity="0.6" stroke-width="0.6"/><ellipse cx="277.9" cy="492.4" rx="2.2" ry="1.4" fill="#f0f0f0" opacity="0.85"/>
<ellipse cx="266.5" cy="503.8" rx="3.9" ry="2.5" fill="#777" opacity="0.35" stroke="#aaa" stroke-opacity="0.6" stroke-width="0.6"/><ellipse cx="265.9" cy="503.1" rx="1.7" ry="1.0" fill="#f0f0f0" opacity="0.85"/>
<ellipse cx="353.5" cy="544.0" rx="6.5" ry="4.2" fill="#777" opacity="0.35" stroke="#aaa" stroke-opacity="0.6" stroke-width="0.6"/><ellipse cx="352.5" cy="543.0" rx="2.8" ry="1.8" fill="#f0f0f0" opacity="0.85"/>
<ellipse cx="386.0" cy="544.0" rx="2.6" ry="1.7" fill="#777" opacity="0.35" stroke="#aaa" stroke-opacity="0.6" stroke-width="0.6"/><ellipse cx="385.6" cy="543.6" rx="1.1" ry="0.7" fill="#f0f0f0" opacity="0.85"/>
<ellipse cx="441.2" cy="573.2" rx="3.9" ry="2.5" fill="#777" opacity="0.35" stroke="#aaa" stroke-opacity="0.6" stroke-width="0.6"/><ellipse cx="440.6" cy="572.6" rx="1.7" ry="1.0" fill="#f0f0f0" opacity="0.85"/>
<ellipse cx="425.0" cy="555.4" rx="2.6" ry="1.7" fill="#777" opacity="0.35" stroke="#aaa" stroke-opacity="0.6" stroke-width="0.6"/><ellipse cx="424.6" cy="555.0" rx="1.1" ry="0.7" fill="#f0f0f0" opacity="0.85"/>
<ellipse cx="477.0" cy="594.4" rx="3.2" ry="2.1" fill="#777" opacity="0.35" stroke="#aaa" stroke-opacity="0.6" stroke-width="0.6"/><ellipse cx="476.5" cy="593.9" rx="1.4" ry="0.9" fill="#f0f0f0" opacity="0.85"/>
</g>
<g clip-path="url(#wclip)">
<polygon points="395.0,239.5 651.0,273.0 643.1,276.6 387.1,240.2" fill="#e8e8e8"/>
<polygon points="392.4,239.7 648.3,274.2 640.5,277.9 384.5,240.4" fill="#e7e7e7"/>
<polygon points="389.7,239.9 645.7,275.3 638.0,279.5 381.9,240.7" fill="#e7e7e7"/>
<polygon points="387.1,240.2 643.1,276.6 635.7,281.3 379.3,241.0" fill="#e6e6e6"/>
<polygon points="384.5,240.4 640.5,277.9 633.6,283.2 376.6,241.4" fill="#e6e6e6"/>
<polygon points="381.9,240.7 638.0,279.5 631.5,285.3 374.1,242.0" fill="#e5e5e5"/>
<polygon points="379.3,241.0 635.7,281.3 629.5,287.4 371.5,242.7" fill="#e5e5e5"/>
<polygon points="376.6,241.4 633.6,283.2 627.6,289.6 369.1,243.7" fill="#e4e4e4"/>
<polygon points="374.1,242.0 631.5,285.3 625.9,291.9 366.7,244.8" fill="#e4e4e4"/>
<polygon points="371.5,242.7 629.5,287.4 624.2,294.3 364.4,246.0" fill="#e6e6e6"/>
<polygon points="369.1,243.7 627.6,289.6 622.6,296.7 362.2,247.5" fill="#e8e8e8"/>
<polygon points="366.7,244.8 625.9,291.9 620.9,299.1 360.0,249.0" fill="#eaeaea"/>
<polygon points="364.4,246.0 624.2,294.3 619.3,301.5 358.0,250.6" fill="#ececec"/>
<polygon points="362.2,247.5 622.6,296.7 617.7,303.9 356.0,252.4" fill="#eeeeee"/>
<polygon points="360.0,249.0 620.9,299.1 616.1,306.4 354.1,254.2" fill="#f0f0f0"/>
<polygon points="358.0,250.6 619.3,301.5 614.6,308.9 352.3,256.2" fill="#f2f2f2"/>
<polygon points="356.0,252.4 617.7,303.9 613.3,311.4 350.5,258.1" fill="#f3f3f3"/>
<polygon points="354.1,254.2 616.1,306.4 612.0,314.1 348.8,260.1" fill="#f5f5f5"/>
<polygon points="352.3,256.2 614.6,308.9 610.9,316.7 347.2,262.2" fill="#f4f4f4"/>
<polygon points="350.5,258.1 613.3,311.4 609.8,319.4 345.6,264.3" fill="#f2f2f2"/>
<polygon points="348.8,260.1 612.0,314.1 608.6,322.1 344.2,266.5" fill="#efefef"/>
<polygon points="347.2,262.2 610.9,316.7 607.4,324.8 342.9,268.9" fill="#ececec"/>
<polygon points="345.6,264.3 609.8,319.4 606.2,327.4 341.8,271.2" fill="#eaeaea"/>
<polygon points="344.2,266.5 608.6,322.1 605.1,330.1 340.8,273.7" fill="#e7e7e7"/>
<polygon points="342.9,268.9 607.4,324.8 604.1,332.8 339.9,276.1" fill="#e4e4e4"/>
<polygon points="341.8,271.2 606.2,327.4 603.2,335.6 339.0,278.6" fill="#e2e2e2"/>
<polygon points="340.8,273.7 605.1,330.1 602.4,338.4 338.3,281.2" fill="#e0e0e0"/>
<polygon points="339.9,276.1 604.1,332.8 601.6,341.2 337.5,283.7" fill="#dfdfdf"/>
<polygon points="339.0,278.6 603.2,335.6 600.8,343.9 336.8,286.2" fill="#dfdfdf"/>
<polygon points="338.3,281.2 602.4,338.4 600.0,346.8 336.1,288.8" fill="#dfdfdf"/>
<polygon points="337.5,283.7 601.6,341.2 599.3,349.6 335.3,291.3" fill="#dedede"/>
<polygon points="336.8,286.2 600.8,343.9 598.6,352.4 334.6,293.8" fill="#dedede"/>
<polygon points="336.1,288.8 600.0,346.8 597.9,355.2 333.8,296.3" fill="#dddddd"/>
<polygon points="335.3,291.3 599.3,349.6 597.2,358.0 333.0,298.9" fill="#dddddd"/>
<polygon points="334.6,293.8 598.6,352.4 596.4,360.8 332.2,301.4" fill="#dddddd"/>
<polygon points="333.8,296.3 597.9,355.2 595.6,363.6 331.4,303.9" fill="#dcdcdc"/>
<polygon points="333.0,298.9 597.2,358.0 594.7,366.4 330.6,306.4" fill="#dedede"/>
<polygon points="332.2,301.4 596.4,360.8 593.8,369.2 329.8,308.9" fill="#e0e0e0"/>
<polygon points="331.4,303.9 595.6,363.6 592.9,371.9 328.9,311.4" fill="#e2e2e2"/>
<polygon points="330.6,306.4 594.7,366.4 592.0,374.7 328.1,313.9" fill="#e4e4e4"/>
<polygon points="329.8,308.9 593.8,369.2 591.1,377.4 327.2,316.4" fill="#e6e6e6"/>
<polygon points="328.9,311.4 592.9,371.9 590.2,380.2 326.2,318.8" fill="#e8e8e8"/>
<polygon points="328.1,313.9 592.0,374.7 589.3,383.0 325.3,321.3" fill="#eaeaea"/>
<polygon points="327.2,316.4 591.1,377.4 588.4,385.8 324.3,323.7" fill="#ececec"/>
<polygon points="326.2,318.8 590.2,380.2 587.6,388.5 323.2,326.1" fill="#eeeeee"/>
<polygon points="325.3,321.3 589.3,383.0 586.6,391.3 322.1,328.5" fill="#f0f0f0"/>
<polygon points="324.3,323.7 588.4,385.8 585.7,394.0 321.0,330.9" fill="#f2f2f2"/>
<polygon points="323.2,326.1 587.6,388.5 584.6,396.7 319.7,333.3" fill="#f4f4f4"/>
<polygon points="322.1,328.5 586.6,391.3 583.4,399.4 318.5,335.6" fill="#f2f2f2"/>
<polygon points="321.0,330.9 585.7,394.0 582.2,402.0 317.2,337.9" fill="#f1f1f1"/>
<polygon points="319.7,333.3 584.6,396.7 580.8,404.6 315.8,340.1" fill="#efefef"/>
<polygon points="318.5,335.6 583.4,399.4 579.4,407.1 314.4,342.3" fill="#ededed"/>
<polygon points="317.2,337.9 582.2,402.0 577.8,409.6 312.9,344.5" fill="#ececec"/>
<polygon points="315.8,340.1 580.8,404.6 576.2,412.0 311.4,346.7" fill="#eaeaea"/>
<polygon points="314.4,342.3 579.4,407.1 574.6,414.4 309.8,348.8" fill="#e8e8e8"/>
<polygon points="312.9,344.5 577.8,409.6 572.9,416.8 308.2,350.9" fill="#e7e7e7"/>
<polygon points="311.4,346.7 576.2,412.0 571.2,419.1 306.5,352.9" fill="#e5e5e5"/>
<polygon points="309.8,348.8 574.6,414.4 569.4,421.4 304.7,354.8" fill="#e3e3e3"/>
<polygon points="308.2,350.9 572.9,416.8 567.5,423.6 303.0,356.8" fill="#e2e2e2"/>
<polygon points="306.5,352.9 571.2,419.1 565.6,425.8 301.2,358.8" fill="#e0e0e0"/>
<polygon points="304.7,354.8 569.4,421.4 563.6,427.9 299.4,360.7" fill="#e1e1e1"/>
<polygon points="303.0,356.8 567.5,423.6 561.4,429.9 297.7,362.7" fill="#e2e2e2"/>
<polygon points="301.2,358.8 565.6,425.8 559.3,431.8 295.9,364.7" fill="#e3e3e3"/>
<polygon points="299.4,360.7 563.6,427.9 557.0,433.7 294.0,366.5" fill="#e3e3e3"/>
<polygon points="297.7,362.7 561.4,429.9 554.8,435.5 291.9,368.1" fill="#e4e4e4"/>
<polygon points="295.9,364.7 559.3,431.8 552.5,437.3 289.7,369.6" fill="#e5e5e5"/>
<polygon points="294.0,366.5 557.0,433.7 550.3,439.2 287.5,370.9" fill="#e6e6e6"/>
<polygon points="291.9,368.1 554.8,435.5 548.0,441.0 285.2,372.2" fill="#e7e7e7"/>
<polygon points="289.7,369.6 552.5,437.3 545.7,442.8 282.9,373.4" fill="#e8e8e8"/>
<polygon points="287.5,370.9 550.3,439.2 543.4,444.5 280.5,374.6" fill="#e8e8e8"/>
<polygon points="285.2,372.2 548.0,441.0 541.1,446.3 278.2,375.9" fill="#e9e9e9"/>
<polygon points="282.9,373.4 545.7,442.8 538.7,448.0 275.8,377.1" fill="#eaeaea"/>
<polygon points="280.5,374.6 543.4,444.5 536.4,449.7 273.5,378.3" fill="#eaeaea"/>
<polygon points="278.2,375.9 541.1,446.3 534.0,451.4 271.1,379.4" fill="#e9e9e9"/>
<polygon points="275.8,377.1 538.7,448.0 531.6,453.1 268.7,380.6" fill="#e9e9e9"/>
<polygon points="273.5,378.3 536.4,449.7 529.2,454.7 266.4,381.7" fill="#e8e8e8"/>
<polygon points="271.1,379.4 534.0,451.4 526.8,456.3 264.0,382.9" fill="#e8e8e8"/>
<polygon points="268.7,380.6 531.6,453.1 524.4,458.0 261.6,384.1" fill="#e7e7e7"/>
<polygon points="266.4,381.7 529.2,454.7 522.1,459.7 259.4,385.4" fill="#e7e7e7"/>
<polygon points="264.0,382.9 526.8,456.3 519.8,461.5 257.1,386.8" fill="#e7e7e7"/>
<polygon points="261.6,384.1 524.4,458.0 517.5,463.3 254.9,388.2" fill="#e6e6e6"/>
<polygon points="259.4,385.4 522.1,459.7 515.2,465.1 252.7,389.6" fill="#e7e7e7"/>
<polygon points="257.1,386.8 519.8,461.5 513.0,467.0 250.5,391.1" fill="#eaeaea"/>
<polygon points="254.9,388.2 517.5,463.3 510.9,469.0 248.3,392.6" fill="#ececec"/>
<polygon points="252.7,389.6 515.2,465.1 508.8,471.0 246.2,394.1" fill="#eeeeee"/>
<polygon points="250.5,391.1 513.0,467.0 506.7,473.0 244.0,395.7" fill="#f1f1f1"/>
<polygon points="248.3,392.6 510.9,469.0 504.7,475.1 241.9,397.2" fill="#f3f3f3"/>
<polygon points="246.2,394.1 508.8,471.0 502.8,477.3 239.8,398.8" fill="#f5f5f5"/>
<polygon points="244.0,395.7 506.7,473.0 500.9,479.5 237.7,400.4" fill="#f8f8f8"/>
<polygon points="241.9,397.2 504.7,475.1 499.0,481.7 235.7,402.1" fill="#f8f8f8"/>
<polygon points="239.8,398.8 502.8,477.3 497.3,484.1 233.7,403.8" fill="#f7f7f7"/>
<polygon points="237.7,400.4 500.9,479.5 495.6,486.4 231.8,405.7" fill="#f7f7f7"/>
<polygon points="235.7,402.1 499.0,481.7 494.0,488.9 230.0,407.6" fill="#f7f7f7"/>
<polygon points="233.7,403.8 497.3,484.1 492.5,491.4 228.3,409.6" fill="#f7f7f7"/>
<polygon points="231.8,405.7 495.6,486.4 491.1,493.9 226.7,411.7" fill="#f6f6f6"/>
<polygon points="230.0,407.6 494.0,488.9 489.8,496.5 225.1,413.8" fill="#f5f5f5"/>
<polygon points="228.3,409.6 492.5,491.4 488.5,499.1 223.6,416.0" fill="#f3f3f3"/>
<polygon points="226.7,411.7 491.1,493.9 487.4,501.8 222.1,418.1" fill="#f1f1f1"/>
<polygon points="225.1,413.8 489.8,496.5 486.3,504.5 220.6,420.3" fill="#efefef"/>
<polygon points="223.6,416.0 488.5,499.1 485.3,507.2 219.2,422.6" fill="#ededed"/>
<polygon points="222.1,418.1 487.4,501.8 484.4,510.0 217.9,424.8" fill="#ebebeb"/>
<polygon points="220.6,420.3 486.3,504.5 483.4,512.7 216.6,427.1" fill="#e8e8e8"/>
<polygon points="219.2,422.6 485.3,507.2 482.6,515.5 215.3,429.4" fill="#e6e6e6"/>
<polygon points="217.9,424.8 484.4,510.0 481.8,518.3 214.1,431.8" fill="#e4e4e4"/>
<polygon points="216.6,427.1 483.4,512.7 481.0,521.1 213.0,434.2" fill="#e4e4e4"/>
<polygon points="215.3,429.4 482.6,515.5 480.2,523.9 211.9,436.6" fill="#e4e4e4"/>
<polygon points="214.1,431.8 481.8,518.3 479.4,526.7 210.9,439.0" fill="#e3e3e3"/>
<polygon points="213.0,434.2 481.0,521.1 478.6,529.5 209.9,441.5" fill="#e3e3e3"/>
<polygon points="211.9,436.6 480.2,523.9 477.8,532.3 209.0,443.9" fill="#e3e3e3"/>
<polygon points="210.9,439.0 479.4,526.7 477.0,535.1 208.1,446.4" fill="#e3e3e3"/>
<polygon points="209.9,441.5 478.6,529.5 476.2,537.9 207.2,448.9" fill="#e3e3e3"/>
<polygon points="209.0,443.9 477.8,532.3 475.6,540.7 206.4,451.4" fill="#e3e3e3"/>
<polygon points="208.1,446.4 477.0,535.1 475.0,543.5 205.6,453.9" fill="#e2e2e2"/>
<polygon points="207.2,448.9 476.2,537.9 474.4,546.4 204.8,456.4" fill="#e2e2e2"/>
<polygon points="206.4,451.4 475.6,540.7 474.0,549.3 204.0,458.9" fill="#e2e2e2"/>
<polygon points="205.6,453.9 475.0,543.5 473.5,552.1 203.3,461.5" fill="#e3e3e3"/>
<polygon points="204.8,456.4 474.4,546.4 473.0,555.0 202.5,464.0" fill="#e4e4e4"/>
<polygon points="204.0,458.9 474.0,549.3 473.0,555.0 202.5,464.0" fill="#e5e5e5"/>
<polygon points="203.3,461.5 473.5,552.1 473.0,555.0 202.5,464.0" fill="#e6e6e6"/>
<rect x="180" y="220" width="500" height="360" fill="url(#wov2)"/>
<ellipse cx="437.8" cy="269.2" rx="5.6" ry="3.4" fill="url(#wd)" stroke="#b4b4b4" stroke-opacity="0.7" stroke-width="0.6"/><ellipse cx="436.6" cy="267.9" rx="2.4" ry="1.0" fill="#ffffff" opacity="0.75"/>
<ellipse cx="544.5" cy="278.7" rx="5.6" ry="3.4" fill="url(#wd)" stroke="#b4b4b4" stroke-opacity="0.7" stroke-width="0.6"/><ellipse cx="543.3" cy="277.3" rx="2.4" ry="1.0" fill="#ffffff" opacity="0.75"/>
<ellipse cx="605.8" cy="281.5" rx="4.9" ry="3.0" fill="url(#wd)" stroke="#b4b4b4" stroke-opacity="0.7" stroke-width="0.6"/><ellipse cx="604.7" cy="280.3" rx="2.1" ry="0.9" fill="#ffffff" opacity="0.75"/>
<ellipse cx="635.5" cy="272.8" rx="3.5" ry="2.1" fill="url(#wd)" stroke="#b4b4b4" stroke-opacity="0.7" stroke-width="0.6"/><ellipse cx="634.8" cy="271.9" rx="1.5" ry="0.6" fill="#ffffff" opacity="0.75"/>
<ellipse cx="425.5" cy="307.8" rx="7.0" ry="4.2" fill="url(#wd)" stroke="#b4b4b4" stroke-opacity="0.7" stroke-width="0.6"/><ellipse cx="424.0" cy="306.0" rx="3.0" ry="1.2" fill="#ffffff" opacity="0.75"/>
<ellipse cx="475.2" cy="303.5" rx="5.6" ry="3.4" fill="url(#wd)" stroke="#b4b4b4" stroke-opacity="0.7" stroke-width="0.6"/><ellipse cx="474.0" cy="302.1" rx="2.4" ry="1.0" fill="#ffffff" opacity="0.75"/>
<ellipse cx="458.8" cy="293.8" rx="3.5" ry="2.1" fill="url(#wd)" stroke="#b4b4b4" stroke-opacity="0.7" stroke-width="0.6"/><ellipse cx="458.0" cy="292.9" rx="1.5" ry="0.6" fill="#ffffff" opacity="0.75"/>
<ellipse cx="527.0" cy="292.0" rx="3.5" ry="2.1" fill="url(#wd)" stroke="#b4b4b4" stroke-opacity="0.7" stroke-width="0.6"/><ellipse cx="526.2" cy="291.1" rx="1.5" ry="0.6" fill="#ffffff" opacity="0.75"/>
<ellipse cx="549.8" cy="312.3" rx="9.1" ry="5.5" fill="url(#wd)" stroke="#b4b4b4" stroke-opacity="0.7" stroke-width="0.6"/><ellipse cx="547.8" cy="310.0" rx="3.9" ry="1.6" fill="#ffffff" opacity="0.75"/>
<ellipse cx="588.2" cy="306.0" rx="4.2" ry="2.5" fill="url(#wd)" stroke="#b4b4b4" stroke-opacity="0.7" stroke-width="0.6"/><ellipse cx="587.4" cy="304.9" rx="1.8" ry="0.8" fill="#ffffff" opacity="0.75"/>
<ellipse cx="471.7" cy="320.0" rx="6.3" ry="3.8" fill="url(#wd)" stroke="#b4b4b4" stroke-opacity="0.7" stroke-width="0.6"/><ellipse cx="470.3" cy="318.4" rx="2.7" ry="1.1" fill="#ffffff" opacity="0.75"/>
<ellipse cx="467.5" cy="337.5" rx="7.0" ry="4.2" fill="url(#wd)" stroke="#b4b4b4" stroke-opacity="0.7" stroke-width="0.6"/><ellipse cx="466.0" cy="335.8" rx="3.0" ry="1.2" fill="#ffffff" opacity="0.75"/>
<ellipse cx="527.0" cy="329.8" rx="7.0" ry="4.2" fill="url(#wd)" stroke="#b4b4b4" stroke-opacity="0.7" stroke-width="0.6"/><ellipse cx="525.5" cy="328.1" rx="3.0" ry="1.2" fill="#ffffff" opacity="0.75"/>
<ellipse cx="596.0" cy="328.8" rx="7.0" ry="4.2" fill="url(#wd)" stroke="#b4b4b4" stroke-opacity="0.7" stroke-width="0.6"/><ellipse cx="594.5" cy="327.0" rx="3.0" ry="1.2" fill="#ffffff" opacity="0.75"/>
<ellipse cx="491.3" cy="322.8" rx="2.8" ry="1.7" fill="url(#wd)" stroke="#b4b4b4" stroke-opacity="0.7" stroke-width="0.6"/><ellipse cx="490.7" cy="322.1" rx="1.2" ry="0.5" fill="#ffffff" opacity="0.75"/>
<ellipse cx="514.8" cy="321.8" rx="2.8" ry="1.7" fill="url(#wd)" stroke="#b4b4b4" stroke-opacity="0.7" stroke-width="0.6"/><ellipse cx="514.1" cy="321.1" rx="1.2" ry="0.5" fill="#ffffff" opacity="0.75"/>
<ellipse cx="514.8" cy="339.2" rx="2.8" ry="1.7" fill="url(#wd)" stroke="#b4b4b4" stroke-opacity="0.7" stroke-width="0.6"/><ellipse cx="514.1" cy="338.6" rx="1.2" ry="0.5" fill="#ffffff" opacity="0.75"/>
<ellipse cx="574.2" cy="349.8" rx="6.3" ry="3.8" fill="url(#wd)" stroke="#b4b4b4" stroke-opacity="0.7" stroke-width="0.6"/><ellipse cx="572.9" cy="348.2" rx="2.7" ry="1.1" fill="#ffffff" opacity="0.75"/>
<ellipse cx="409.8" cy="348.0" rx="5.6" ry="3.4" fill="url(#wd)" stroke="#b4b4b4" stroke-opacity="0.7" stroke-width="0.6"/><ellipse cx="408.6" cy="346.6" rx="2.4" ry="1.0" fill="#ffffff" opacity="0.75"/>
<ellipse cx="493.8" cy="360.2" rx="6.3" ry="3.8" fill="url(#wd)" stroke="#b4b4b4" stroke-opacity="0.7" stroke-width="0.6"/><ellipse cx="492.4" cy="358.7" rx="2.7" ry="1.1" fill="#ffffff" opacity="0.75"/>
<ellipse cx="537.5" cy="381.2" rx="4.9" ry="3.0" fill="url(#wd)" stroke="#b4b4b4" stroke-opacity="0.7" stroke-width="0.6"/><ellipse cx="536.5" cy="380.0" rx="2.1" ry="0.9" fill="#ffffff" opacity="0.75"/>
<ellipse cx="569.0" cy="387.2" rx="6.3" ry="3.8" fill="url(#wd)" stroke="#b4b4b4" stroke-opacity="0.7" stroke-width="0.6"/><ellipse cx="567.6" cy="385.6" rx="2.7" ry="1.1" fill="#ffffff" opacity="0.75"/>
<ellipse cx="583.0" cy="285.0" rx="2.8" ry="1.7" fill="url(#wd)" stroke="#b4b4b4" stroke-opacity="0.7" stroke-width="0.6"/><ellipse cx="582.4" cy="284.3" rx="1.2" ry="0.5" fill="#ffffff" opacity="0.75"/>
<ellipse cx="235.0" cy="434.8" rx="5.6" ry="3.4" fill="url(#wd)" stroke="#b4b4b4" stroke-opacity="0.7" stroke-width="0.6"/><ellipse cx="233.8" cy="433.4" rx="2.4" ry="1.0" fill="#ffffff" opacity="0.75"/>
<ellipse cx="282.2" cy="439.0" rx="6.3" ry="3.8" fill="url(#wd)" stroke="#b4b4b4" stroke-opacity="0.7" stroke-width="0.6"/><ellipse cx="280.9" cy="437.4" rx="2.7" ry="1.1" fill="#ffffff" opacity="0.75"/>
<ellipse cx="324.2" cy="417.3" rx="5.6" ry="3.4" fill="url(#wd)" stroke="#b4b4b4" stroke-opacity="0.7" stroke-width="0.6"/><ellipse cx="323.1" cy="415.9" rx="2.4" ry="1.0" fill="#ffffff" opacity="0.75"/>
<ellipse cx="354.0" cy="397.7" rx="5.6" ry="3.4" fill="url(#wd)" stroke="#b4b4b4" stroke-opacity="0.7" stroke-width="0.6"/><ellipse cx="352.8" cy="396.3" rx="2.4" ry="1.0" fill="#ffffff" opacity="0.75"/>
<ellipse cx="341.8" cy="381.2" rx="4.2" ry="2.5" fill="url(#wd)" stroke="#b4b4b4" stroke-opacity="0.7" stroke-width="0.6"/><ellipse cx="340.9" cy="380.2" rx="1.8" ry="0.8" fill="#ffffff" opacity="0.75"/>
<ellipse cx="385.5" cy="426.8" rx="5.6" ry="3.4" fill="url(#wd)" stroke="#b4b4b4" stroke-opacity="0.7" stroke-width="0.6"/><ellipse cx="384.3" cy="425.4" rx="2.4" ry="1.0" fill="#ffffff" opacity="0.75"/>
<ellipse cx="415.2" cy="417.3" rx="7.0" ry="4.2" fill="url(#wd)" stroke="#b4b4b4" stroke-opacity="0.7" stroke-width="0.6"/><ellipse cx="413.8" cy="415.6" rx="3.0" ry="1.2" fill="#ffffff" opacity="0.75"/>
<ellipse cx="441.5" cy="425.0" rx="7.7" ry="4.7" fill="url(#wd)" stroke="#b4b4b4" stroke-opacity="0.7" stroke-width="0.6"/><ellipse cx="439.9" cy="423.1" rx="3.3" ry="1.4" fill="#ffffff" opacity="0.75"/>
<ellipse cx="446.8" cy="447.8" rx="8.4" ry="5.1" fill="url(#wd)" stroke="#b4b4b4" stroke-opacity="0.7" stroke-width="0.6"/><ellipse cx="444.9" cy="445.6" rx="3.6" ry="1.5" fill="#ffffff" opacity="0.75"/>
<ellipse cx="448.5" cy="405.8" rx="4.2" ry="2.5" fill="url(#wd)" stroke="#b4b4b4" stroke-opacity="0.7" stroke-width="0.6"/><ellipse cx="447.6" cy="404.7" rx="1.8" ry="0.8" fill="#ffffff" opacity="0.75"/>
<ellipse cx="476.5" cy="404.0" rx="5.6" ry="3.4" fill="url(#wd)" stroke="#b4b4b4" stroke-opacity="0.7" stroke-width="0.6"/><ellipse cx="475.3" cy="402.6" rx="2.4" ry="1.0" fill="#ffffff" opacity="0.75"/>
<ellipse cx="375.0" cy="461.8" rx="7.0" ry="4.2" fill="url(#wd)" stroke="#b4b4b4" stroke-opacity="0.7" stroke-width="0.6"/><ellipse cx="373.5" cy="460.0" rx="3.0" ry="1.2" fill="#ffffff" opacity="0.75"/>
<ellipse cx="392.5" cy="477.5" rx="8.4" ry="5.1" fill="url(#wd)" stroke="#b4b4b4" stroke-opacity="0.7" stroke-width="0.6"/><ellipse cx="390.7" cy="475.4" rx="3.6" ry="1.5" fill="#ffffff" opacity="0.75"/>
<ellipse cx="343.5" cy="482.8" rx="5.6" ry="3.4" fill="url(#wd)" stroke="#b4b4b4" stroke-opacity="0.7" stroke-width="0.6"/><ellipse cx="342.3" cy="481.4" rx="2.4" ry="1.0" fill="#ffffff" opacity="0.75"/>
<ellipse cx="310.2" cy="482.8" rx="8.4" ry="5.1" fill="url(#wd)" stroke="#b4b4b4" stroke-opacity="0.7" stroke-width="0.6"/><ellipse cx="308.4" cy="480.6" rx="3.6" ry="1.5" fill="#ffffff" opacity="0.75"/>
<ellipse cx="467.8" cy="486.2" rx="4.2" ry="2.5" fill="url(#wd)" stroke="#b4b4b4" stroke-opacity="0.7" stroke-width="0.6"/><ellipse cx="466.9" cy="485.2" rx="1.8" ry="0.8" fill="#ffffff" opacity="0.75"/>
<ellipse cx="460.8" cy="507.2" rx="5.6" ry="3.4" fill="url(#wd)" stroke="#b4b4b4" stroke-opacity="0.7" stroke-width="0.6"/><ellipse cx="459.6" cy="505.9" rx="2.4" ry="1.0" fill="#ffffff" opacity="0.75"/>
<ellipse cx="401.2" cy="512.5" rx="4.9" ry="3.0" fill="url(#wd)" stroke="#b4b4b4" stroke-opacity="0.7" stroke-width="0.6"/><ellipse cx="400.2" cy="511.3" rx="2.1" ry="0.9" fill="#ffffff" opacity="0.75"/>
<ellipse cx="382.0" cy="495.0" rx="3.5" ry="2.1" fill="url(#wd)" stroke="#b4b4b4" stroke-opacity="0.7" stroke-width="0.6"/><ellipse cx="381.2" cy="494.1" rx="1.5" ry="0.6" fill="#ffffff" opacity="0.75"/>
<ellipse cx="222.8" cy="446.0" rx="2.8" ry="1.7" fill="url(#wd)" stroke="#b4b4b4" stroke-opacity="0.7" stroke-width="0.6"/><ellipse cx="222.2" cy="445.3" rx="1.2" ry="0.5" fill="#ffffff" opacity="0.75"/>
<ellipse cx="294.5" cy="470.5" rx="2.8" ry="1.7" fill="url(#wd)" stroke="#b4b4b4" stroke-opacity="0.7" stroke-width="0.6"/><ellipse cx="293.9" cy="469.8" rx="1.2" ry="0.5" fill="#ffffff" opacity="0.75"/>
<ellipse cx="479.7" cy="405.4" rx="4.9" ry="3.0" fill="url(#wd)" stroke="#b4b4b4" stroke-opacity="0.7" stroke-width="0.6"/><ellipse cx="478.6" cy="404.2" rx="2.1" ry="0.9" fill="#ffffff" opacity="0.75"/>
<ellipse cx="440.2" cy="425.7" rx="4.2" ry="2.5" fill="url(#wd)" stroke="#b4b4b4" stroke-opacity="0.7" stroke-width="0.6"/><ellipse cx="439.4" cy="424.6" rx="1.8" ry="0.8" fill="#ffffff" opacity="0.75"/>
<ellipse cx="473.7" cy="501.2" rx="4.2" ry="2.5" fill="url(#wd)" stroke="#b4b4b4" stroke-opacity="0.7" stroke-width="0.6"/><ellipse cx="472.8" cy="500.2" rx="1.8" ry="0.8" fill="#ffffff" opacity="0.75"/>
<ellipse cx="500.5" cy="462.0" rx="4.2" ry="2.5" fill="url(#wd)" stroke="#b4b4b4" stroke-opacity="0.7" stroke-width="0.6"/><ellipse cx="499.6" cy="460.9" rx="1.8" ry="0.8" fill="#ffffff" opacity="0.75"/>
<ellipse cx="354.8" cy="284.2" rx="2.8" ry="1.7" fill="url(#wd)" stroke="#b4b4b4" stroke-opacity="0.7" stroke-width="0.6"/><ellipse cx="354.1" cy="283.6" rx="1.2" ry="0.5" fill="#ffffff" opacity="0.75"/>
<ellipse cx="372.2" cy="299.0" rx="4.2" ry="2.5" fill="url(#wd)" stroke="#b4b4b4" stroke-opacity="0.7" stroke-width="0.6"/><ellipse cx="371.4" cy="297.9" rx="1.8" ry="0.8" fill="#ffffff" opacity="0.75"/>
<ellipse cx="378.4" cy="325.4" rx="4.9" ry="3.0" fill="url(#wd)" stroke="#b4b4b4" stroke-opacity="0.7" stroke-width="0.6"/><ellipse cx="377.3" cy="324.2" rx="2.1" ry="0.9" fill="#ffffff" opacity="0.75"/>
<ellipse cx="344.2" cy="314.0" rx="3.5" ry="2.1" fill="url(#wd)" stroke="#b4b4b4" stroke-opacity="0.7" stroke-width="0.6"/><ellipse cx="343.5" cy="313.1" rx="1.5" ry="0.6" fill="#ffffff" opacity="0.75"/>
</g>
<path d="M395.0,239.5 L651.0,273.0 648.3,274.2 645.7,275.3 643.1,276.6 640.5,277.9 638.0,279.5 635.7,281.3 633.6,283.2 631.5,285.3 629.5,287.4 627.6,289.6 625.9,291.9 624.2,294.3 622.6,296.7 620.9,299.1 619.3,301.5 617.7,303.9 616.1,306.4 614.6,308.9 613.3,311.4 612.0,314.1 610.9,316.7 609.8,319.4 608.6,322.1 607.4,324.8 606.2,327.4 605.1,330.1 604.1,332.8 603.2,335.6 602.4,338.4 601.6,341.2 600.8,343.9 600.0,346.8 599.3,349.6 598.6,352.4 597.9,355.2 597.2,358.0 596.4,360.8 595.6,363.6 594.7,366.4 593.8,369.2 592.9,371.9 592.0,374.7 591.1,377.4 590.2,380.2 589.3,383.0 588.4,385.8 587.6,388.5 586.6,391.3 585.7,394.0 584.6,396.7 583.4,399.4 582.2,402.0 580.8,404.6 579.4,407.1 577.8,409.6 576.2,412.0 574.6,414.4 572.9,416.8 571.2,419.1 569.4,421.4 567.5,423.6 565.6,425.8 563.6,427.9 561.4,429.9 559.3,431.8 557.0,433.7 554.8,435.5 552.5,437.3 550.3,439.2 548.0,441.0 545.7,442.8 543.4,444.5 541.1,446.3 538.7,448.0 536.4,449.7 534.0,451.4 531.6,453.1 529.2,454.7 526.8,456.3 524.4,458.0 522.1,459.7 519.8,461.5 517.5,463.3 515.2,465.1 513.0,467.0 510.9,469.0 508.8,471.0 506.7,473.0 504.7,475.1 502.8,477.3 500.9,479.5 499.0,481.7 497.3,484.1 495.6,486.4 494.0,488.9 492.5,491.4 491.1,493.9 489.8,496.5 488.5,499.1 487.4,501.8 486.3,504.5 485.3,507.2 484.4,510.0 483.4,512.7 482.6,515.5 481.8,518.3 481.0,521.1 480.2,523.9 479.4,526.7 478.6,529.5 477.8,532.3 477.0,535.1 476.2,537.9 475.6,540.7 475.0,543.5 474.4,546.4 474.0,549.3 473.5,552.1 473.0,555.0 L202.5,464.0 203.3,461.5 204.0,458.9 204.8,456.4 205.6,453.9 206.4,451.4 207.2,448.9 208.1,446.4 209.0,443.9 209.9,441.5 210.9,439.0 211.9,436.6 213.0,434.2 214.1,431.8 215.3,429.4 216.6,427.1 217.9,424.8 219.2,422.6 220.6,420.3 222.1,418.1 223.6,416.0 225.1,413.8 226.7,411.7 228.3,409.6 230.0,407.6 231.8,405.7 233.7,403.8 235.7,402.1 237.7,400.4 239.8,398.8 241.9,397.2 244.0,395.7 246.2,394.1 248.3,392.6 250.5,391.1 252.7,389.6 254.9,388.2 257.1,386.8 259.4,385.4 261.6,384.1 264.0,382.9 266.4,381.7 268.7,380.6 271.1,379.4 273.5,378.3 275.8,377.1 278.2,375.9 280.5,374.6 282.9,373.4 285.2,372.2 287.5,370.9 289.7,369.6 291.9,368.1 294.0,366.5 295.9,364.7 297.7,362.7 299.4,360.7 301.2,358.8 303.0,356.8 304.7,354.8 306.5,352.9 308.2,350.9 309.8,348.8 311.4,346.7 312.9,344.5 314.4,342.3 315.8,340.1 317.2,337.9 318.5,335.6 319.7,333.3 321.0,330.9 322.1,328.5 323.2,326.1 324.3,323.7 325.3,321.3 326.2,318.8 327.2,316.4 328.1,313.9 328.9,311.4 329.8,308.9 330.6,306.4 331.4,303.9 332.2,301.4 333.0,298.9 333.8,296.3 334.6,293.8 335.3,291.3 336.1,288.8 336.8,286.2 337.5,283.7 338.3,281.2 339.0,278.6 339.9,276.1 340.8,273.7 341.8,271.2 342.9,268.9 344.2,266.5 345.6,264.3 347.2,262.2 348.8,260.1 350.5,258.1 352.3,256.2 354.1,254.2 356.0,252.4 358.0,250.6 360.0,249.0 362.2,247.5 364.4,246.0 366.7,244.8 369.1,243.7 371.5,242.7 374.1,242.0 376.6,241.4 379.3,241.0 381.9,240.7 384.5,240.4 387.1,240.2 389.7,239.9 392.4,239.7 395.0,239.5 Z" fill="none" stroke="#a8a8a8" stroke-width="0.5"/>
<path d="M279.2,321.2 L307.8,350.5 298.0,352.8 298.1,354.3 298.2,356.6 298.4,359.2 298.6,362.0 299.0,364.7 299.5,367.0 300.2,369.0 301.1,370.8 302.0,372.5 303.1,374.1 304.3,375.8 305.5,377.5 306.8,379.3 308.2,381.1 309.6,382.8 311.2,384.6 312.8,386.3 314.5,388.0 316.3,389.6 318.2,391.2 320.1,392.8 322.2,394.3 324.3,395.7 326.5,397.0 328.8,398.2 331.1,399.2 333.6,400.2 336.1,401.1 338.8,402.0 341.5,403.0 344.6,404.1 348.1,405.2 351.7,406.4 355.1,407.4 357.9,408.3 360.0,409.0 360.0,411.0 357.8,411.2 354.7,411.4 351.1,411.7 347.3,411.9 343.4,412.1 340.0,412.0 336.9,411.8 333.9,411.4 330.9,410.9 327.9,410.4 325.0,409.7 322.0,409.0 319.0,408.2 315.9,407.4 312.8,406.5 309.8,405.4 306.8,404.3 304.0,403.0 301.3,401.5 298.6,399.9 296.0,398.1 293.6,396.3 291.2,394.4 289.0,392.5 287.0,390.6 285.1,388.7 283.3,386.7 281.6,384.7 280.0,382.6 278.5,380.5 277.0,378.3 275.6,376.1 274.3,373.8 273.1,371.6 272.0,369.3 271.0,367.0 270.2,364.6 269.6,362.0 269.0,359.4 268.6,357.0 268.3,355.0 268.0,353.5 259.8,353.5 Z" fill="url(#ag1)" stroke="url(#ag1)" stroke-width="1.2" stroke-linejoin="round"/>
<path d="M317.1,255.2 L346.0,296.4 336.4,299.9 336.6,301.7 336.9,304.2 337.3,307.1 337.7,310.3 338.3,313.5 339.0,316.5 339.9,319.4 340.9,322.3 342.1,325.3 343.4,328.3 344.7,331.2 346.0,334.0 347.3,336.8 348.7,339.5 350.2,342.2 351.6,344.8 353.2,347.3 354.8,349.8 356.4,352.0 358.1,354.2 359.8,356.3 361.6,358.3 363.4,360.2 365.2,362.0 367.2,363.7 369.1,365.3 371.2,366.8 373.2,368.2 375.3,369.5 377.5,370.8 379.7,371.9 382.0,372.9 384.4,373.8 386.7,374.6 389.1,375.4 391.5,376.0 394.1,376.5 396.8,377.0 399.6,377.3 402.2,377.6 404.4,377.8 406.0,378.0 406.0,378.5 405.3,378.6 404.4,378.8 403.3,378.9 402.0,379.1 400.4,379.3 398.5,379.5 396.2,379.7 393.4,379.9 390.4,380.2 387.2,380.4 384.0,380.5 381.0,380.4 378.1,380.2 375.2,379.9 372.2,379.6 369.3,379.1 366.4,378.5 363.5,377.8 360.5,376.9 357.5,375.9 354.5,374.8 351.6,373.6 348.7,372.3 346.0,370.8 343.4,369.1 340.9,367.2 338.6,365.2 336.3,363.0 334.1,360.8 332.0,358.5 330.0,356.1 328.2,353.6 326.4,351.1 324.7,348.4 323.1,345.6 321.5,342.8 319.9,339.8 318.4,336.8 316.9,333.6 315.4,330.4 314.0,327.0 312.8,323.5 311.5,319.5 310.3,315.1 309.1,310.5 308.1,306.2 307.2,302.5 306.6,299.9 298.8,298.1 Z" fill="url(#ag2)" stroke="url(#ag2)" stroke-width="1.2" stroke-linejoin="round"/>
<path d="M387.0,264.0 L414.8,293.2 405.0,294.8 405.1,296.3 405.2,298.5 405.4,301.0 405.6,303.8 406.0,306.5 406.5,309.0 407.2,311.3 408.0,313.6 408.9,315.9 410.0,318.1 411.2,320.3 412.5,322.5 413.9,324.6 415.5,326.7 417.2,328.8 419.0,330.8 420.9,332.7 423.0,334.5 425.2,336.2 427.7,337.9 430.2,339.5 432.8,340.9 435.4,342.3 438.0,343.5 440.5,344.5 443.0,345.4 445.4,346.2 447.9,346.8 450.4,347.4 453.0,348.0 455.8,348.6 458.9,349.1 461.9,349.5 464.8,349.9 467.2,350.3 469.0,350.5 469.0,351.0 468.7,351.2 468.4,351.4 467.9,351.7 467.3,351.9 466.3,352.2 465.0,352.5 463.2,352.8 460.9,353.1 458.4,353.4 455.6,353.7 452.8,353.9 450.0,354.0 447.2,354.0 444.3,353.9 441.3,353.7 438.2,353.4 435.1,353.0 432.0,352.5 428.8,351.8 425.4,351.0 422.1,350.1 418.7,349.0 415.5,347.8 412.5,346.5 409.7,345.0 407.1,343.4 404.5,341.6 402.1,339.8 399.8,337.9 397.5,336.0 395.3,334.1 393.1,332.1 391.0,330.1 389.1,328.1 387.2,326.0 385.5,324.0 383.9,322.0 382.4,320.1 381.1,318.1 379.9,316.1 378.9,314.1 378.0,312.0 377.4,309.7 377.0,307.1 376.8,304.5 376.7,302.1 376.6,300.0 376.5,298.5 368.2,294.8 Z" fill="url(#ag3)" stroke="url(#ag3)" stroke-width="1.2" stroke-linejoin="round"/>
<g fill="none" stroke="#d9603a" stroke-width="2.3">
<path d="M186,266 L186,395.7" stroke-dasharray="7 4.25"/>
<path d="M185.2,394.6 L245,394.6" stroke-dasharray="8.4 3.75 7.5 3.75"/>
<path d="M598,483.2 L598,727" stroke-dasharray="7 4.25"/>
<path d="M597.2,729 L533,729" stroke-dasharray="7.5 3.75"/>
</g>
<circle cx="253.8" cy="392.5" r="9.2" fill="#f74f1f"/>
<circle cx="597.3" cy="472.5" r="9.4" fill="#f74f1f"/>
<text x="171" y="78.4" font-family="Liberation Sans" font-weight="bold" font-size="35.6" fill="#f0522a" stroke="#f0522a" stroke-width="1.1" textLength="457.5" lengthAdjust="spacingAndGlyphs">Light Blocking &amp; Reflective</text>
<text x="251.7" y="116.3" font-family="Liberation Sans" font-size="18.6" fill="#333" textLength="297" lengthAdjust="spacingAndGlyphs">Dual-Sided Black &amp; White Protection</text>
<g font-family="Liberation Sans" font-size="19" fill="#de5a38" stroke="#de5a38" stroke-width="0.4">
<text x="117.3" y="221.9" textLength="167" lengthAdjust="spacingAndGlyphs">White Side: Reflects</text>
<text x="100.2" y="244.8" textLength="204" lengthAdjust="spacingAndGlyphs">Light to Brighten Spaces</text>
<text x="290.5" y="724.9" textLength="213.5" lengthAdjust="spacingAndGlyphs">Black Side: Absorbs Light</text>
<text x="288.5" y="747.9" textLength="222.5" lengthAdjust="spacingAndGlyphs">for Effective Light Blocking</text>
</g>
</svg>
</body></html>
